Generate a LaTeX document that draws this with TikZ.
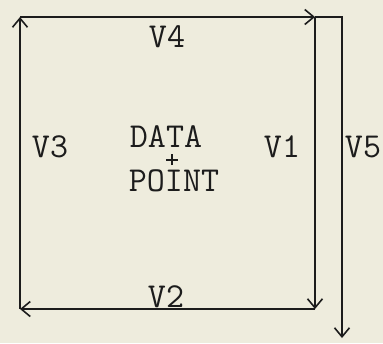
\documentclass[tikz,border=0pt]{standalone}
\usetikzlibrary{arrows.meta}
\definecolor{paper}{RGB}{238,236,221}
\definecolor{ink}{RGB}{28,28,28}
\begin{document}
\begin{tikzpicture}[x=1pt,y=-1pt,
  edge/.style={draw=ink,line width=1.8pt,-{Straight Barb[length=9pt,width=15pt,line width=1.6pt]}},
  lbl/.style={text=ink,font=\ttfamily\fontsize{35}{37}\selectfont,inner sep=0pt}]
\fill[paper] (0,0) rectangle (383,343);
\useasboundingbox (0,0) rectangle (383,343);
\coordinate (tl) at (20,17);
\coordinate (tr) at (315,17);
\coordinate (br) at (315,309);
\coordinate (bl) at (20,309);
\coordinate (v5top) at (342,17);
\coordinate (v5end) at (342,338);
\draw[edge] (tl) -- (tr);
\draw[edge] (tr) -- (br);
\draw[edge] (br) -- (bl);
\draw[edge] (bl) -- (tl);
\draw[edge] (tr) -- (v5top) -- (v5end);
\node[lbl] (v4) at (167,37) {V4};
\node[lbl] (v3) at (50,147) {V3};
\node[lbl] (v1) at (282,147) {V1};
\node[lbl] (v5) at (363,147) {V5};
\node[lbl] (v2) at (166,297) {V2};
\node[lbl] (data) at (166,137) {DATA};
\node[lbl] (point) at (174,181) {POINT};
\coordinate (dp) at (172,160);
\draw[ink,line width=1.2pt] ([xshift=-6pt]dp) -- ([xshift=6pt]dp)
  ([yshift=-5pt]dp) -- ([yshift=6pt]dp);
\end{tikzpicture}
\end{document}
